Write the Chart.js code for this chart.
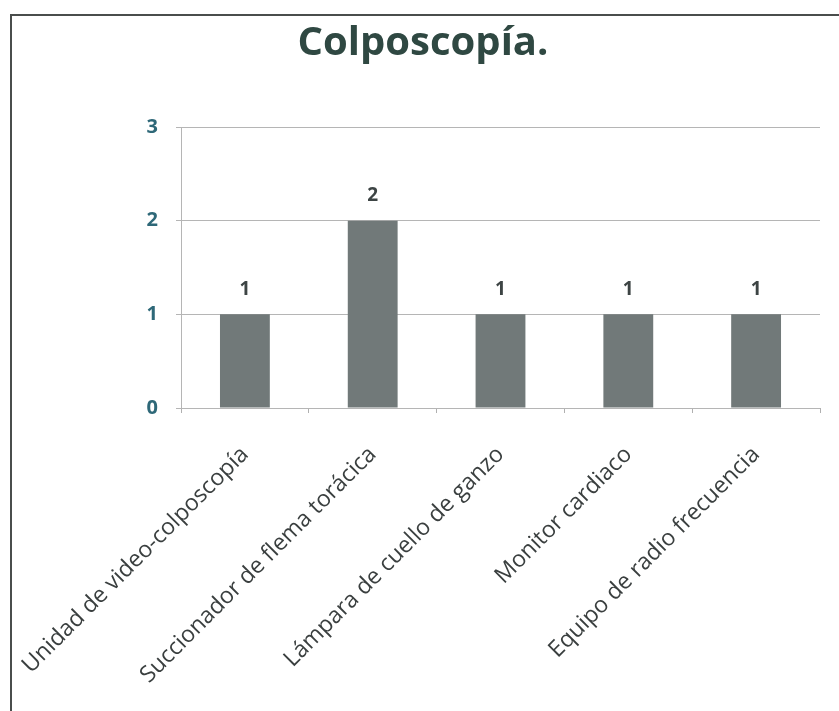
<!DOCTYPE html>
<html>
<head>
<meta charset="utf-8">
<script src="https://cdn.jsdelivr.net/npm/chart.js@4/dist/chart.umd.min.js"></script>
<style>
  html, body { margin: 0; padding: 0; background: #fff; }
  #wrap { position: relative; width: 839px; height: 711px; overflow: hidden; }
  #frame {
    position: absolute; left: 10px; top: 14px; width: 900px; height: 800px;
    border-left: 2px solid #4a4d4c; border-top: 2px solid #4a4d4c;
    pointer-events: none;
  }
  canvas { position: absolute; left: 0; top: 0; }
</style>
</head>
<body>
<div id="wrap">
  <canvas id="chart" width="839" height="711"></canvas>
  <div id="frame"></div>
</div>
<script>
// Equipment counts for the colposcopy area
const chartTitle = 'Colposcopía.';
const categories = [
  'Unidad de video-colposcopía',
  'Succionador de flema torácica',
  'Lámpara de cuello de ganzo',
  'Monitor cardiaco',
  'Equipo de radio frecuencia'
];
const counts = [1, 2, 1, 1, 1];
const yTicks = [0, 1, 2, 3];

const FONT = '"Open Sans", "Liberation Sans", sans-serif';

// Chart heading, centred over the whole frame
const heading = {
  id: 'heading',
  afterDraw(chart) {
    const ctx = chart.ctx;
    ctx.save();
    ctx.font = 'bold 40px ' + FONT;
    ctx.fillStyle = '#2f4842';
    ctx.textAlign = 'center';
    ctx.textBaseline = 'middle';
    ctx.fillText(chartTitle, 423, 44);
    ctx.restore();
  }
};

// Writes each bar's value above it
const valueLabels = {
  id: 'valueLabels',
  afterDatasetsDraw(chart) {
    const ctx = chart.ctx;
    const meta = chart.getDatasetMeta(0);
    ctx.save();
    ctx.font = 'bold 19px ' + FONT;
    ctx.fillStyle = '#3d4444';
    ctx.textAlign = 'center';
    ctx.textBaseline = 'middle';
    meta.data.forEach((bar, i) => {
      ctx.fillText(String(counts[i]), bar.x, bar.y - 25);
    });
    ctx.restore();
  }
};

new Chart(document.getElementById('chart'), {
  type: 'bar',
  data: {
    labels: categories,
    datasets: [{
      data: counts,
      backgroundColor: '#717979',
      borderWidth: 0,
      barPercentage: 0.39,
      categoryPercentage: 1
    }]
  },
  options: {
    responsive: false,
    animation: false,
    layout: { padding: { top: 127, right: 19, bottom: 0, left: 0 } },
    plugins: {
      legend: { display: false },
      tooltip: { enabled: false },
      title: { display: false }
    },
    scales: {
      x: {
        offset: true,
        grid: {
          offset: true,
          drawOnChartArea: false,
          drawTicks: true,
          tickLength: 5,
          color: '#b0b0b0'
        },
        border: { display: false },
        ticks: {
          autoSkip: false,
          maxRotation: 45,
          minRotation: 45,
          padding: 28,
          color: '#3a3f3f',
          font: { family: FONT, size: 23 }
        },
        afterFit(scale) {
          // rotated labels may run past the plot's left edge into the margin
          scale.height = 303;
          scale.paddingLeft = 0;
          scale.paddingRight = 0;
        }
      },
      y: {
        min: 0,
        max: 3,
        afterBuildTicks(scale) { scale.ticks = yTicks.map(v => ({ value: v })); },
        grid: { color: '#b5b5b5', tickLength: 5 },
        border: { color: '#b5b5b5' },
        ticks: {
          padding: 18,
          color: '#2e6878',
          font: { family: FONT, size: 20, weight: 'bold' }
        },
        afterFit(scale) { scale.width = 181; }
      }
    }
  },
  plugins: [valueLabels, heading]
});
</script>
</body>
</html>
